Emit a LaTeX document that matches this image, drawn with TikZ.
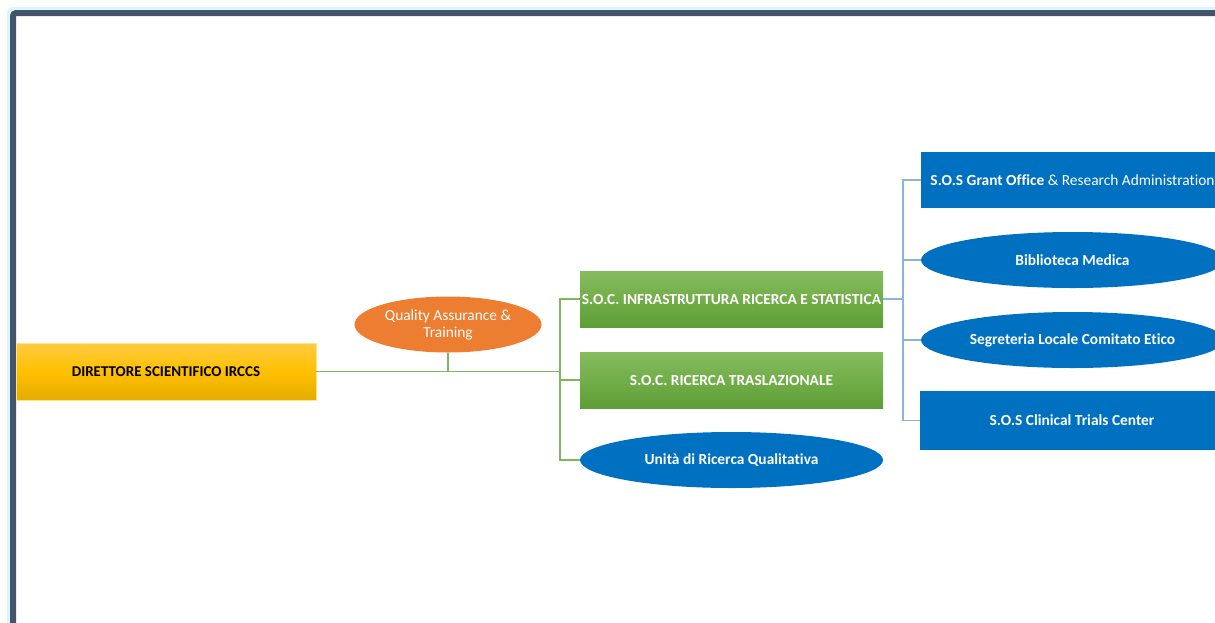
\documentclass[tikz,border=0pt]{standalone}
\usepackage{fontspec}
\setmainfont{Carlito}[Ligatures={NoCommon}]
\usetikzlibrary{shapes.geometric}
\definecolor{framec}{HTML}{44546A}
\definecolor{glowc}{HTML}{D8F8FA}
\definecolor{goldtop}{HTML}{FFCB40}
\definecolor{goldmid}{HTML}{FFC000}
\definecolor{goldbot}{HTML}{E3AC00}
\definecolor{goldedge}{HTML}{FFE38C}
\definecolor{greentop}{HTML}{86BC5E}
\definecolor{greenmid}{HTML}{72AE49}
\definecolor{greenbot}{HTML}{5E9E36}
\definecolor{bluec}{HTML}{0070C0}
\definecolor{orangec}{HTML}{ED7D31}
\definecolor{glinec}{HTML}{80B75C}
\definecolor{blinec}{HTML}{8AB4DE}
\tikzset{
  goldbox/.style={rectangle, inner sep=0pt, minimum width=300pt, minimum height=57pt,
    shading=axis, top color=goldtop, bottom color=goldbot, middle color=goldmid,
    draw=goldedge, line width=0.8pt, font=\fontsize{15}{17}\selectfont\bfseries, text=black},
  greenbox/.style={rectangle, inner sep=0pt, minimum width=303pt, minimum height=56pt,
    shading=axis, top color=greentop, bottom color=greenbot, middle color=greenmid,
    font=\fontsize{15.4}{17}\selectfont\bfseries, text=white},
  blueell/.style={ellipse, inner sep=0pt, minimum width=303pt, minimum height=56pt,
    fill=bluec, font=\fontsize{15.4}{17}\selectfont\bfseries, text=white},
  bluebox/.style={rectangle, inner sep=0pt, minimum width=303pt, minimum height=56pt,
    fill=bluec, font=\fontsize{15.4}{17}\selectfont\bfseries, text=white},
  orangeell/.style={ellipse, inner sep=0pt, minimum width=187pt, minimum height=56pt,
    fill=orangec, font=\fontsize{15.4}{17}\selectfont, text=white, align=center},
  gline/.style={draw=glinec, line width=1.5pt},
  bline/.style={draw=blinec, line width=1.5pt},
}
\begin{document}
\begin{tikzpicture}[x=1pt,y=-1pt]
\useasboundingbox (0,0) rectangle (1215,622);
\begin{scope}
  \clip (0,0) rectangle (1215,622);
  \fill[white] (13,13) rectangle (1300,700);
  \draw[glowc, line width=3pt, rounded corners=4pt] (8.5,700) -- (8.5,8.5) -- (1300,8.5);
  \draw[framec, line width=6pt, rounded corners=3pt] (13,700) -- (13,13) -- (1300,13);
\end{scope}

\node[goldbox] (dir) at (166,371.5) {DIRETTORE SCIENTIFICO IRCCS};
\node[orangeell] (qa) at (448,324.5) {Quality Assurance \&\\Training};
\node[greenbox] (infra) at (731.5,299) {S.O.C. INFRASTRUTTURA RICERCA E STATISTICA};
\node[greenbox] (trasl) at (731.5,380) {S.O.C. RICERCA TRASLAZIONALE};
\node[blueell] (unita) at (731.5,460) {Unità di Ricerca Qualitativa};

\node[bluebox] (grant) at (1072.5,180) {S.O.S Grant Office \mdseries\& Research Administration};
\node[blueell] (bib) at (1072.5,260) {Biblioteca Medica};
\node[blueell] (seg) at (1072.5,340) {Segreteria Locale Comitato Etico};
\node[bluebox, minimum width=304pt, minimum height=59pt] (clin) at (1072,420.5) {S.O.S Clinical Trials Center};

\coordinate (j1) at (560,371.5);
\coordinate (j2) at (903,299);

\draw[gline] (dir.east) -- (j1);
\draw[gline] (qa.south) -- (qa.south |- j1);
\draw[gline] (infra.west) -| (j1) |- (unita.west);
\draw[gline] (trasl.west) -- (trasl.west -| j1);

\draw[bline] (infra.east) -- (j2);
\draw[bline] (grant.west) -| (j2) |- (clin.west);
\draw[bline] (bib.west) -- (bib.west -| j2);
\draw[bline] (seg.west) -- (seg.west -| j2);
\end{tikzpicture}
\end{document}
